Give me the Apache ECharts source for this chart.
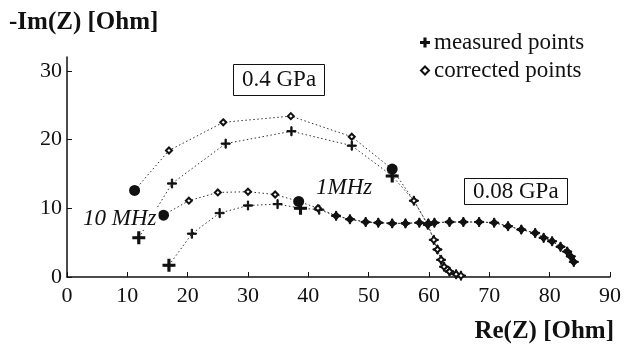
<!DOCTYPE html>
<html>
<head>
<meta charset="utf-8">
<script src="https://cdn.jsdelivr.net/npm/echarts@6/dist/echarts.min.js"></script>
<style>
    html, body { margin: 0; padding: 0; background: #fff; }
    #chart { width: 624px; height: 352px; }
</style>
</head>
<body>
<div id="chart"></div>
<script>
// data (Re, -Im)
var measured40 = [[11.9, 5.7], [17.4, 13.6], [26.3, 19.4], [37.2, 21.2], [47.2, 19.1], [53.9, 14.7]];
var corrected40 = [[11.2, 12.6], [16.9, 18.4], [25.9, 22.5], [37.1, 23.4], [47.2, 20.4], [53.9, 15.7]];
var tail40 = [[57.5, 11.1], [59.8, 7.6], [60.8, 5.4], [61.4, 4.0], [62.0, 2.5], [62.5, 1.5], [63.4, 0.8], [64.5, 0.4], [65.3, 0.2]];
var measured08 = [[16.9, 1.7], [20.7, 6.3], [25.3, 9.3], [30.0, 10.4], [34.9, 10.6], [38.7, 10.0], [41.8, 9.8]];
var corrected08 = [[16.0, 9.0], [20.2, 11.1], [25.0, 12.3], [30.0, 12.4], [34.5, 12.0], [38.4, 11.0], [41.6, 10.0]];
var tail08 = [[44.6, 8.9], [46.9, 8.4], [49.5, 8.0], [51.6, 7.9], [53.9, 7.8], [56.1, 7.8], [58.4, 7.9], [59.9, 7.8],
    [60.9, 7.9], [63.4, 8.0], [65.7, 8.0], [68.3, 8.0], [70.8, 7.9], [73.1, 7.4], [75.3, 6.9], [77.6, 6.4],
    [79.0, 5.7], [80.4, 5.2], [81.8, 4.4], [82.9, 3.7], [83.5, 3.0], [84.0, 2.2]];
// 10 MHz and 1 MHz points
var freqMeasured = [[11.9, 5.7], [16.9, 1.7], [38.7, 10.0], [53.9, 14.7]];
var freqCorrected = [[11.2, 12.6], [16.0, 9.0], [38.4, 11.0], [53.9, 15.7]];
var yTicks = [0, 10, 20, 30];

var serif = "'Liberation Serif', 'DejaVu Serif', serif";
var ink = '#111';
var plus = 'path://M4.3,0H5.7V4.3H10V5.7H5.7V10H4.3V5.7H0V4.3H4.3Z';

var dotted = { color: '#333', width: 1, type: [1.5, 2.5] };

function lineSeries(name, data, symbol, size) {
    return {
        name: name,
        type: 'line',
        data: data,
        symbol: symbol,
        symbolSize: size,
        showAllSymbol: true,
        itemStyle: { color: ink, borderColor: ink, borderWidth: 1 },
        lineStyle: dotted,
        emphasis: { disabled: true },
        z: 2
    };
}

var chart = echarts.init(document.getElementById('chart'), null, { renderer: 'canvas' });

var option = {
    animation: false,
    backgroundColor: '#fff',
    title: [
        { text: '-Im(Z) [Ohm]', left: 9, top: 10, padding: 0,
          textStyle: { fontFamily: serif, fontSize: 25, fontWeight: 'bold', color: ink } },
        { text: 'Re(Z) [Ohm]', right: 10, top: 319, padding: 0,
          textStyle: { fontFamily: serif, fontSize: 25, fontWeight: 'bold', color: ink } },
        { text: '0.4 GPa', left: 233, top: 64, padding: [4, 9], borderColor: ink, borderWidth: 1,
          textStyle: { fontFamily: serif, fontSize: 23, fontWeight: 'normal', color: ink, lineHeight: 24 } },
        { text: '0.08 GPa', left: 464, top: 178, padding: [2, 9], borderColor: ink, borderWidth: 1,
          textStyle: { fontFamily: serif, fontSize: 23, fontWeight: 'normal', color: ink, lineHeight: 23 } },
        { text: '10 MHz', left: 81, top: 207, padding: [0, 2], backgroundColor: '#fff',
          textStyle: { fontFamily: serif, fontSize: 23, fontWeight: 'normal', fontStyle: 'italic', color: ink } },
        { text: '1MHz', left: 316, top: 176, padding: 0,
          textStyle: { fontFamily: serif, fontSize: 23, fontWeight: 'normal', fontStyle: 'italic', color: ink } }
    ],
    legend: {
        orient: 'vertical',
        left: 415,
        top: 26,
        itemWidth: 8,
        itemHeight: 8,
        itemGap: 5,
        textStyle: { fontFamily: serif, fontSize: 23, color: ink },
        data: [
            { name: 'measured points', icon: plus },
            { name: 'corrected points', icon: 'emptyDiamond' }
        ]
    },
    grid: { left: 67, right: 10, top: 57, bottom: 75 },
    xAxis: {
        type: 'value',
        min: 0,
        max: 90,
        interval: 10,
        splitLine: { show: false },
        axisLine: { show: true, lineStyle: { color: ink, width: 1.5 } },
        axisTick: { show: true, inside: true, length: 5, lineStyle: { color: ink } },
        axisLabel: { fontFamily: serif, fontSize: 22, color: ink, margin: 8 }
    },
    yAxis: {
        type: 'value',
        min: 0,
        max: 32,
        interval: 10,
        splitLine: { show: false },
        axisLine: { show: true, lineStyle: { color: ink, width: 1.5 } },
        axisTick: { show: true, inside: true, length: 5, customValues: yTicks, lineStyle: { color: ink } },
        axisLabel: { fontFamily: serif, fontSize: 22, color: ink, margin: 5, customValues: yTicks }
    },
    series: [
        lineSeries('measured points', measured40.concat(tail40), plus, 9),
        lineSeries('corrected points', corrected40.concat(tail40), 'emptyDiamond', 6),
        lineSeries('measured points', measured08.concat(tail08), plus, 9),
        lineSeries('corrected points', corrected08.concat(tail08), 'emptyDiamond', 6),
        {
            type: 'scatter', data: tail08, symbol: 'diamond', symbolSize: 8,
            itemStyle: { color: ink, opacity: 1 }, z: 3, emphasis: { disabled: true }
        },
        {
            type: 'scatter', data: freqMeasured, symbol: 'path://M3.8,0H6.2V3.8H10V6.2H6.2V10H3.8V6.2H0V3.8H3.8Z', symbolSize: 13,
            itemStyle: { color: ink, opacity: 1 }, z: 3, emphasis: { disabled: true }
        },
        {
            type: 'scatter', data: freqCorrected, symbol: 'circle', symbolSize: 11,
            itemStyle: { color: ink, opacity: 1 }, z: 3, emphasis: { disabled: true }
        }
    ]
};

chart.setOption(option);
</script>
</body>
</html>
